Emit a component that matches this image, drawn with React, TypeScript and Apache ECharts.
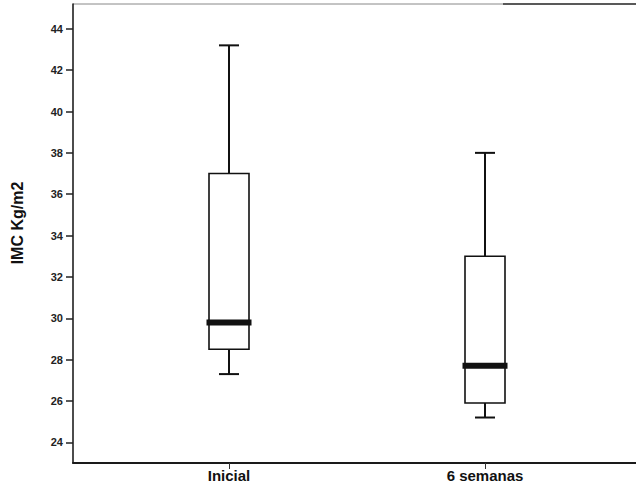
import React, { useEffect, useRef } from "react";
import * as echarts from "echarts";

const categories = ["Inicial", "6 semanas"];
const categoryPositions = [1, 2];
const mins = [27.3, 25.2];
const q1s = [28.5, 25.9];
const medians = [29.8, 27.7];
const q3s = [37.0, 33.0];
const maxs = [43.2, 38.0];
const yTicks = [24, 26, 28, 30, 32, 34, 36, 38, 40, 42, 44];
const yName = "IMC Kg/m2";

const BOX_W = 40;
const CAP_W = 20;
const MED_W = 45;
const MED_H = 6;

export default function App() {
  const ref = useRef<HTMLDivElement>(null);
  useEffect(() => {
    if (!ref.current) return;
    const chart = echarts.init(ref.current, null, { renderer: "svg" });
    const boxData = categoryPositions.map((x, i) => [x, mins[i], q1s[i], medians[i], q3s[i], maxs[i]]);
    const renderItem = (_params: any, api: any) => {
      const x = api.value(0);
      const pMin = api.coord([x, api.value(1)]);
      const pQ1 = api.coord([x, api.value(2)]);
      const pMed = api.coord([x, api.value(3)]);
      const pQ3 = api.coord([x, api.value(4)]);
      const pMax = api.coord([x, api.value(5)]);
      const cx = pMed[0];
      const stroke = { stroke: "#111", lineWidth: 1.6, fill: "none" };
      const whisk = { stroke: "#111", lineWidth: 2, fill: "none" };
      return {
        type: "group",
        children: [
          { type: "line", shape: { x1: cx, y1: pQ3[1], x2: cx, y2: pMax[1] }, style: whisk },
          { type: "line", shape: { x1: cx, y1: pQ1[1], x2: cx, y2: pMin[1] }, style: whisk },
          { type: "line", shape: { x1: cx - CAP_W / 2, y1: pMax[1], x2: cx + CAP_W / 2, y2: pMax[1] }, style: whisk },
          { type: "line", shape: { x1: cx - CAP_W / 2, y1: pMin[1], x2: cx + CAP_W / 2, y2: pMin[1] }, style: whisk },
          {
            type: "rect",
            shape: { x: cx - BOX_W / 2, y: pQ3[1], width: BOX_W, height: pQ1[1] - pQ3[1] },
            style: { ...stroke, fill: "#fff" },
          },
          {
            type: "rect",
            shape: { x: cx - MED_W / 2, y: pMed[1] - MED_H / 2, width: MED_W, height: MED_H },
            style: { fill: "#111" },
          },
        ],
      };
    };
    chart.setOption({
      animation: false,
      backgroundColor: "#fff",
      grid: { left: 73, top: 4, right: 0, bottom: 39 },
      xAxis: {
        type: "value",
        min: 0.390625,
        max: 2.58984,
        splitLine: { show: false },
        axisLine: { show: true, lineStyle: { color: "#1a1a1a", width: 2 } },
        axisTick: { show: true, customValues: categoryPositions, length: 6, lineStyle: { color: "#333", width: 1 } },
        axisLabel: {
          customValues: categoryPositions,
          formatter: (v: number) => categories[Math.round(v) - 1] ?? "",
          fontFamily: "Liberation Sans, Arial, sans-serif",
          fontWeight: "bold",
          fontSize: 15,
          color: "#111",
          margin: 5,
        },
      },
      yAxis: {
        type: "value",
        min: 23,
        max: 45.2,
        splitLine: { show: false },
        axisLine: { show: true, lineStyle: { color: "#111", width: 1.5 } },
        axisTick: { show: true, customValues: yTicks, length: 7, lineStyle: { color: "#222", width: 1.5 } },
        axisLabel: {
          customValues: yTicks,
          fontFamily: "Liberation Sans, Arial, sans-serif",
          fontWeight: "bold",
          fontSize: 11,
          color: "#222",
          margin: 10,
        },
      },
      graphic: [
        { type: "line", shape: { x1: 73, y1: 4, x2: 503, y2: 4 }, style: { stroke: "#888", lineWidth: 1 } },
        { type: "line", shape: { x1: 503, y1: 4, x2: 636, y2: 4 }, style: { stroke: "#222", lineWidth: 1.5 } },
        {
          type: "text",
          x: 17,
          y: 223,
          rotation: Math.PI / 2,
          style: {
            text: yName,
            fontFamily: "Liberation Sans, Arial, sans-serif",
            fontWeight: "bold",
            fontSize: 16,
            fill: "#111",
            align: "center",
            verticalAlign: "middle",
          },
        },
      ],
      series: [
        {
          type: "custom",
          data: boxData,
          renderItem,
          encode: { x: 0, y: [1, 2, 3, 4, 5] },
          z: 2,
        },
      ],
    });
    return () => chart.dispose();
  }, []);
  return <div ref={ref} style={{ position: "fixed", left: 0, top: 0, width: 636, height: 502 }} />;
}
